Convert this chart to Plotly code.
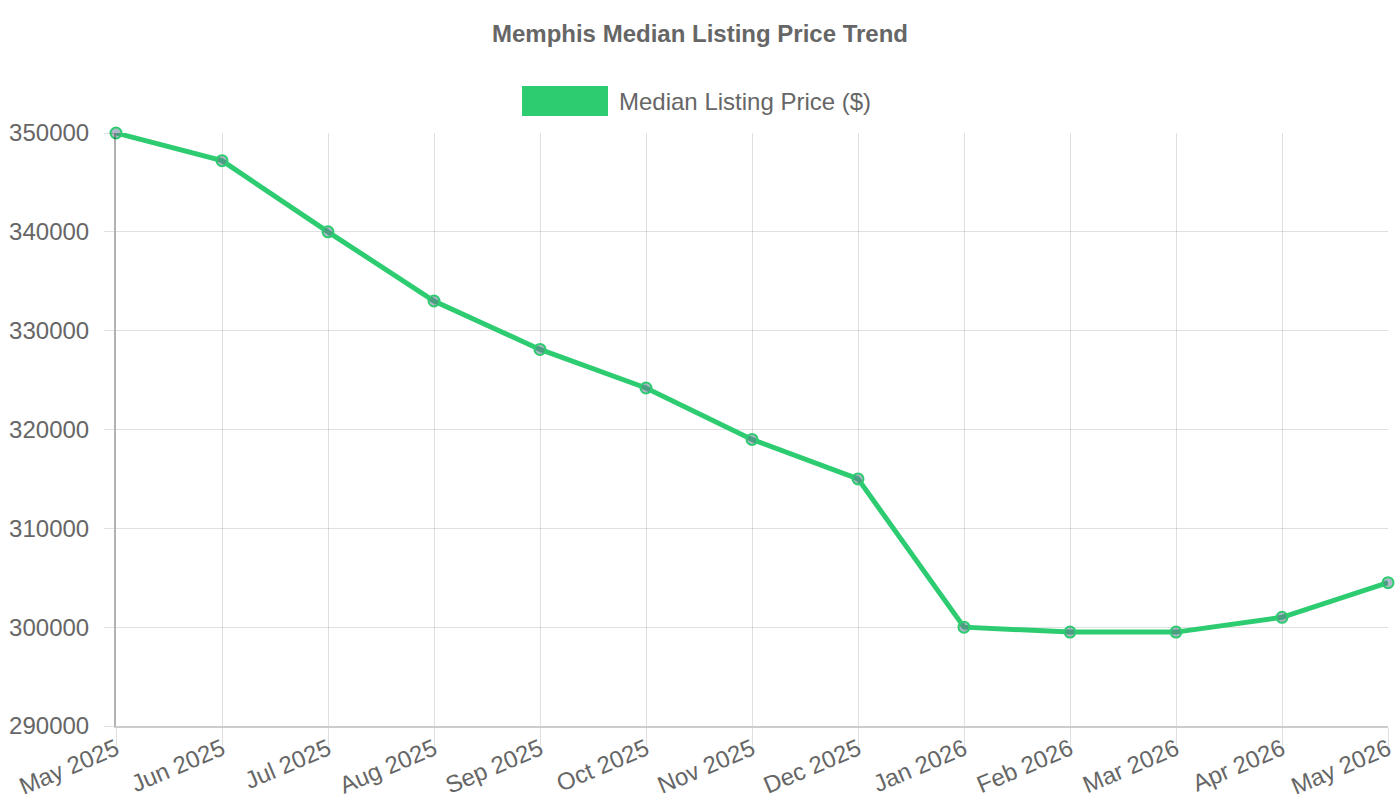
import plotly.graph_objects as go

months = ["May 2025", "Jun 2025", "Jul 2025", "Aug 2025", "Sep 2025", "Oct 2025",
          "Nov 2025", "Dec 2025", "Jan 2026", "Feb 2026", "Mar 2026", "Apr 2026", "May 2026"]
prices = [350000, 347200, 340000, 333000, 328100, 324200, 319000, 315000,
          300000, 299500, 299500, 301000, 304500]
y_ticks = [290000, 300000, 310000, 320000, 330000, 340000, 350000]

series_name = "Median Listing Price ($)"
title_text = "Memphis Median Listing Price Trend"
green = "#2ecc71"
text_col = "#666666"
font_family = "Liberation Sans, Arial, sans-serif"

W, H = 1400, 800
L, R, T, B = 116, 12, 133, 74
pw, ph = W - L - R, H - T - B

def px_x(x):
    return (x - L) / pw

def px_y(y):
    return (H - B - y) / ph

fig = go.Figure()
fig.add_trace(go.Scatter(
    x=list(range(len(months))), y=prices, mode="lines+markers", name=series_name,
    line=dict(color=green, width=5),
    marker=dict(size=11, color="rgba(100,115,145,0.5)", line=dict(color=green, width=2)),
    cliponaxis=False, showlegend=False,
))

fig.update_layout(
    width=W, height=H,
    margin=dict(l=L, r=R, t=T, b=B, autoexpand=False),
    paper_bgcolor="white", plot_bgcolor="white",
    font=dict(family=font_family, color=text_col, size=24),
    title=dict(text=title_text, x=0.5, xanchor="center", y=1 - 34 / H, yanchor="middle",
               yref="container", font=dict(size=24, color=text_col, weight="bold",
                                           family=font_family)),
    shapes=[dict(type="rect", xref="paper", yref="paper",
                 x0=px_x(522), x1=px_x(608), y0=px_y(116), y1=px_y(86),
                 fillcolor=green, line=dict(color=green, width=0))],
    annotations=[dict(text=series_name, xref="paper", yref="paper",
                      x=px_x(617), y=px_y(101), xanchor="left", yanchor="middle",
                      showarrow=False, font=dict(size=24, color=text_col, family=font_family))],
)

fig.update_xaxes(
    range=[0, len(months) - 1], tickmode="array", tickvals=list(range(len(months))),
    ticktext=months, tickangle=-23, showgrid=True, gridcolor="rgba(0,0,0,0.12)", gridwidth=1,
    ticks="outside", ticklen=18, tickcolor="rgba(0,0,0,0.12)", automargin=False,
    showline=True, linecolor="rgba(0,0,0,0.2)", linewidth=2, zeroline=False,
    ticklabelstandoff=-20, tickfont=dict(size=24, color=text_col),
)
fig.update_yaxes(
    range=[290000, 350000], tickmode="array", tickvals=y_ticks,
    ticktext=[str(v) for v in y_ticks], showgrid=True, gridcolor="rgba(0,0,0,0.12)", gridwidth=1,
    ticks="outside", ticklen=10, tickcolor="rgba(0,0,0,0.12)", automargin=False,
    showline=True, linecolor="rgba(0,0,0,0.3)", linewidth=2, zeroline=False,
    ticklabelstandoff=10, tickfont=dict(size=24, color=text_col),
)

fig.write_html("out.html")
